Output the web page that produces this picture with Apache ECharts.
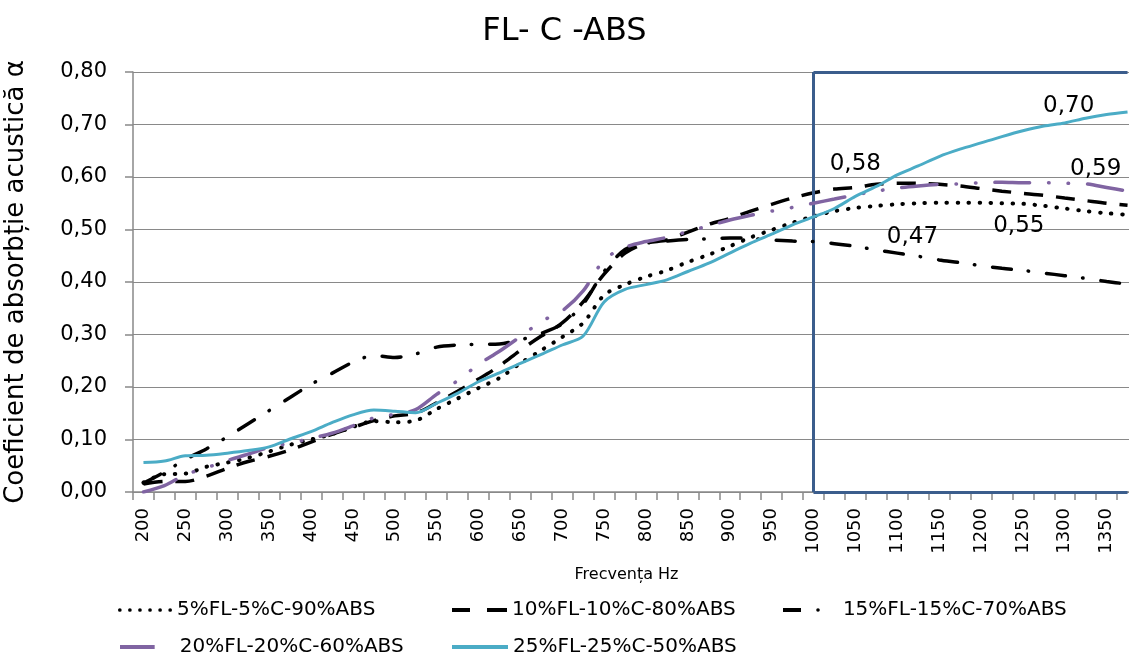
<!DOCTYPE html>
<html>
<head>
<meta charset="utf-8">
<script src="https://cdn.jsdelivr.net/npm/echarts@6/dist/echarts.min.js"></script>
<style>html,body{margin:0;padding:0;background:#fff;}#c{width:1129px;height:656px;}</style>
</head>
<body>
<div id="c"></div>
<script>
var freq = [200,225,250,275,300,325,350,375,400,425,450,475,500,525,550,575,600,625,650,675,700,725,750,775,800,825,850,875,900,925,950,975,1000,1025,1050,1075,1100,1125,1150,1175,1200,1225,1250,1275,1300,1325,1350,1375];
var names = ['5%FL-5%C-90%ABS','10%FL-10%C-80%ABS','15%FL-15%C-70%ABS','20%FL-20%C-60%ABS','25%FL-25%C-50%ABS'];
var s5  = [0.018,0.034,0.035,0.048,0.056,0.065,0.077,0.090,0.100,0.110,0.124,0.135,0.133,0.136,0.158,0.178,0.198,0.217,0.245,0.270,0.295,0.322,0.375,0.395,0.410,0.422,0.438,0.452,0.468,0.485,0.499,0.513,0.525,0.535,0.541,0.545,0.548,0.550,0.551,0.551,0.551,0.550,0.549,0.545,0.540,0.535,0.531,0.528];
var s10 = [0.015,0.020,0.020,0.030,0.045,0.058,0.068,0.080,0.095,0.110,0.123,0.136,0.145,0.150,0.170,0.192,0.215,0.240,0.270,0.297,0.322,0.362,0.415,0.455,0.474,0.480,0.495,0.510,0.521,0.535,0.548,0.560,0.570,0.577,0.580,0.586,0.588,0.588,0.586,0.583,0.578,0.573,0.569,0.565,0.560,0.555,0.550,0.546];
var s15 = [0.017,0.038,0.062,0.082,0.105,0.130,0.155,0.180,0.205,0.226,0.247,0.260,0.256,0.263,0.276,0.280,0.281,0.282,0.290,0.302,0.320,0.358,0.420,0.462,0.474,0.478,0.481,0.482,0.484,0.483,0.480,0.478,0.477,0.473,0.468,0.461,0.455,0.449,0.442,0.437,0.431,0.426,0.422,0.417,0.412,0.407,0.401,0.396];
var s20 = [0.000,0.012,0.033,0.046,0.060,0.072,0.085,0.093,0.102,0.112,0.126,0.141,0.148,0.157,0.186,0.212,0.243,0.268,0.296,0.325,0.345,0.383,0.442,0.466,0.477,0.485,0.496,0.507,0.518,0.527,0.535,0.542,0.550,0.558,0.566,0.573,0.579,0.583,0.586,0.587,0.589,0.590,0.589,0.589,0.588,0.587,0.580,0.573];
var s25 = [0.056,0.059,0.069,0.070,0.074,0.079,0.086,0.101,0.115,0.132,0.147,0.156,0.154,0.151,0.169,0.188,0.210,0.227,0.245,0.262,0.280,0.297,0.362,0.386,0.395,0.404,0.420,0.436,0.455,0.474,0.491,0.509,0.524,0.540,0.563,0.582,0.604,0.621,0.639,0.653,0.665,0.677,0.688,0.697,0.703,0.712,0.719,0.724];
var yTicks = [0,0.1,0.2,0.3,0.4,0.5,0.6,0.7,0.8];
// frequency of the labelled point in each series
var labelFreq = [1250, 1050, 1050, 1325, 1300];
// highlighted frequency range (box)
var boxFrom = '1000', boxTo = '1375';

var FONT = 'DejaVu Sans';
function fmt(v){ return Number(v).toFixed(2).replace('.', ','); }

var labelStyles = [
  {position:'bottom', offset:[-4,5]},
  {position:'top', offset:[0,-6]},
  {position:'right', offset:[26,-9]},
  {position:'top', offset:[10,2]},
  {position:'top', offset:[4,0]}
];

var lineStyles = [
  {color:'#000', width:4, type:[0.5,10.5], cap:'round'},
  {color:'#000', width:3.5, type:[19,13]},
  {color:'#000', width:3.5, type:[19,17,0.5,18], cap:'round'},
  {color:'#8064a2', width:3.5, type:[35,19,0.5,19,0.5,19], cap:'round'},
  {color:'#4bacc6', width:3}
];
var allData = [s5, s10, s15, s20, s25];

function circ(cx, r){ return 'M'+(cx-r)+',2a'+r+','+r+' 0 1,0 '+(2*r)+',0a'+r+','+r+' 0 1,0 '+(-2*r)+',0z'; }
var dotIcon = 'path://' + [2,12.4,22.8,33.2,43.6,54].map(function(x){return circ(x,1.9);}).join('');
var legendIcons = [
  dotIcon,
  'path://M0,0h18v4h-18zM35,0h20v4h-20z',
  'path://M0,0h18v4h-18z' + circ(35,1.8),
  'path://M0,0h39v4.5h-39z',
  'path://M0,0h56v4h-56z'
];
var legendW = [54, 55, 37, 39, 56];
var legendPad = [0, 0, 18, 18, 0];
var legendPos = [[113,595],[447,595],[778,595],[115,632],[447,632]];

var series = allData.map(function(vals, k){
  var li = freq.indexOf(labelFreq[k]);
  var ls = labelStyles[k];
  var s = {
    name: names[k], type:'line', data: vals, smooth:0.3,
    symbol:'none', showSymbol:false,
    lineStyle: lineStyles[k], itemStyle:{color: lineStyles[k].color},
    z: 3 + k,
    emphasis:{disabled:true},
    markPoint:{
      silent:true, symbol:'circle', symbolSize:1, itemStyle:{color:'rgba(0,0,0,0)'},
      label:{show:true, position:ls.position, offset:ls.offset, fontSize:23, fontFamily:FONT, color:'#000',
        formatter:function(p){ return fmt(p.data.coord[1]); }},
      data:[{coord:[String(freq[li]), vals[li]]}]
    }
  };
  if(k===4){
    s.clip = false;
    var yTop = yTicks[yTicks.length-1], yBot = yTicks[0];
    s.markLine = {
      silent:true, symbol:['none','none'],
      lineStyle:{color:'#3b5d8c', width:3, type:'solid'},
      label:{show:false},
      data:[
        [{xAxis:boxFrom, yAxis:yTop},{xAxis:boxTo, yAxis:yTop}],
        [{xAxis:boxFrom, yAxis:yTop},{xAxis:boxFrom, yAxis:yBot}],
        [{xAxis:boxFrom, yAxis:yBot},{xAxis:boxTo, yAxis:yBot}]
      ]
    };
  }
  return s;
});

var legends = names.map(function(n,k){
  return {data:[{name:n, icon:legendIcons[k]}], left:legendPos[k][0], top:legendPos[k][1],
    itemWidth:legendW[k], itemHeight:4, itemGap:5, selectedMode:false,
    textStyle:{fontFamily:FONT, fontSize:20, color:'#000', padding:[0,0,0,legendPad[k]]}};
});

var chart = echarts.init(document.getElementById('c'), null, {renderer:'canvas'});
chart.setOption({
  animation:false,
  backgroundColor:'#fff',
  title:{text:'FL- C -ABS', left:'center', top:11, textStyle:{fontFamily:FONT, fontSize:32, fontWeight:'normal', color:'#000'}},
  legend: legends,
  grid:{left:133, top:72, width:1005, bottom:164, containLabel:false, outerBoundsMode:'none'},
  xAxis:{
    type:'category', data:freq.map(String), boundaryGap:true,
    name:'Frecvența Hz', nameLocation:'middle', nameGap:75,
    nameTextStyle:{fontFamily:FONT, fontSize:16, color:'#000', padding:[0,18,0,0]},
    axisLine:{lineStyle:{color:'#898989', width:1.5}},
    axisTick:{show:true, interval:0, length:8, lineStyle:{color:'#898989', width:1.5}},
    axisLabel:{interval:1, rotate:90, margin:16, fontFamily:FONT, fontSize:18, color:'#000'},
    splitLine:{show:false}
  },
  yAxis:{
    type:'value', min:yTicks[0], max:yTicks[yTicks.length-1], interval:0.1,
    name:'Coeficient de absorbție acustică α', nameLocation:'middle', nameRotate:90, nameGap:104,
    nameTextStyle:{fontFamily:FONT, fontSize:26, color:'#000'},
    axisLine:{show:true, lineStyle:{color:'#898989', width:1.5}},
    axisTick:{show:true, length:8, lineStyle:{color:'#898989', width:1.5}},
    axisLabel:{margin:26, fontFamily:FONT, fontSize:21, color:'#000', formatter:function(v){return fmt(v);}},
    splitLine:{show:true, lineStyle:{color:'#898989', width:1.2}}
  },
  series: series
});
</script>
</body>
</html>
